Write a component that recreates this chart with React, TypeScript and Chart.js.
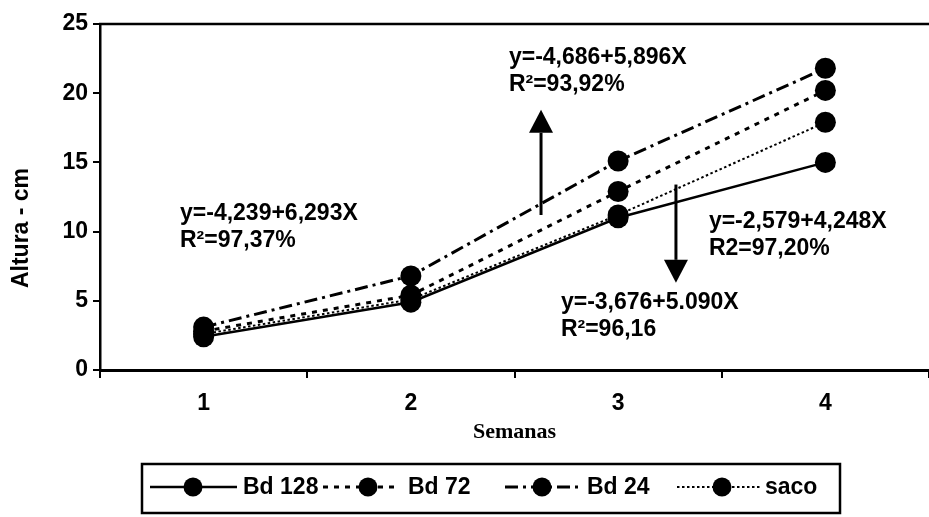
import React, { useEffect, useRef } from "react";
import { Chart, registerables } from "chart.js";

Chart.register(...registerables);

// ---- data ----
const weeks = ["1", "2", "3", "4"];
const seriesNames = ["Bd 128", "Bd 72", "Bd 24", "saco"];
const bd128 = [2.4, 4.9, 11.0, 15.0];
const bd72 = [2.8, 5.4, 12.9, 20.2];
const bd24 = [3.1, 6.8, 15.1, 21.8];
const saco = [2.6, 5.1, 11.2, 17.9];
const yMin = 0;
const yMax = 25;
const yStep = 5;
const yTitle = "Altura - cm";
const xTitle = "Semanas";
const eqBd24 = ["y=-4,239+6,293X", "R²=97,37%"];
const eqBd72 = ["y=-4,686+5,896X", "R²=93,92%"];
const eqBd128 = ["y=-2,579+4,248X", "R2=97,20%"];
const eqSaco = ["y=-3,676+5.090X", "R²=96,16"];

// ---- styles / layout ----
const FONT = '"Liberation Sans", Arial, sans-serif';
const SERIF = '"Liberation Serif", "Times New Roman", serif';
const styles = [
  { dash: [] as number[], width: 2.5 },
  { dash: [5, 6], width: 3 },
  { dash: [13, 5, 3, 5], width: 3 },
  { dash: [2.5, 2.5], width: 2 },
];
// annotation anchors in data coordinates (category index, value)
const notes = [
  { lines: eqBd24, at: [-0.114, 11.3] },
  { lines: eqBd72, at: [1.473, 22.6] },
  { lines: eqBd128, at: [2.438, 10.7] },
  { lines: eqSaco, at: [1.724, 4.9] },
];
const arrows = [
  { at: 1.628, from: 11.2, to: 18.8 },
  { at: 2.279, from: 13.4, to: 6.3 },
];
const legendItems = [
  { x0: 150, x1: 237, mx: 193, tx: 243 },
  { x0: 323, x1: 397, mx: 368, tx: 408 },
  { x0: 505, x1: 583, mx: 542, tx: 587 },
  { x0: 677, x1: 762, mx: 722, tx: 765 },
];

const series = [bd128, bd72, bd24, saco];

const decorPlugin = {
  id: "decor",
  afterDraw(chart: any) {
    const ctx = chart.ctx as CanvasRenderingContext2D;
    const area = chart.chartArea;
    const xs = chart.scales.x;
    const ys = chart.scales.y;
    ctx.save();
    ctx.fillStyle = "#000";
    ctx.strokeStyle = "#000";

    // top frame
    ctx.lineWidth = 2.5;
    ctx.setLineDash([]);
    ctx.beginPath();
    ctx.moveTo(area.left - 1, area.top);
    ctx.lineTo(area.right, area.top);
    ctx.stroke();

    // y title
    ctx.save();
    ctx.translate(22, (area.top + area.bottom) / 2 + 31);
    ctx.rotate(-Math.PI / 2);
    ctx.font = `bold 23px ${FONT}`;
    ctx.textAlign = "center";
    ctx.textBaseline = "middle";
    ctx.fillText(yTitle, 0, 0);
    ctx.restore();

    // x title
    ctx.font = `bold 22px ${SERIF}`;
    ctx.textAlign = "center";
    ctx.textBaseline = "middle";
    ctx.fillText(xTitle, (area.left + area.right) / 2, area.bottom + 62);

    // annotations
    ctx.font = `bold 23px ${FONT}`;
    ctx.textAlign = "left";
    notes.forEach((n) => {
      const x = xs.getPixelForValue(n.at[0]);
      const y = ys.getPixelForValue(n.at[1]);
      n.lines.forEach((t, k) => ctx.fillText(t, x, y + k * 27));
    });

    // arrows
    arrows.forEach((a) => {
      const x = xs.getPixelForValue(a.at);
      const y0 = ys.getPixelForValue(a.from);
      const y1 = ys.getPixelForValue(a.to);
      const dir = y1 < y0 ? -1 : 1;
      const head = 23;
      ctx.lineWidth = 3;
      ctx.beginPath();
      ctx.moveTo(x, y0);
      ctx.lineTo(x, y1 - dir * head);
      ctx.stroke();
      ctx.beginPath();
      ctx.moveTo(x, y1);
      ctx.lineTo(x - 12, y1 - dir * head);
      ctx.lineTo(x + 12, y1 - dir * head);
      ctx.closePath();
      ctx.fill();
    });

    // legend
    ctx.lineWidth = 2.5;
    ctx.setLineDash([]);
    ctx.strokeRect(142, 464, 698, 49);
    const cy = 487;
    ctx.font = `bold 23px ${FONT}`;
    ctx.textBaseline = "middle";
    legendItems.forEach((it, i) => {
      ctx.lineWidth = styles[i].width;
      ctx.setLineDash(styles[i].dash);
      ctx.beginPath();
      ctx.moveTo(it.x0, cy);
      ctx.lineTo(it.x1, cy);
      ctx.stroke();
      ctx.setLineDash([]);
      ctx.beginPath();
      ctx.arc(it.mx, cy, 9.5, 0, Math.PI * 2);
      ctx.fill();
      ctx.fillText(seriesNames[i], it.tx, cy + 1);
    });
    ctx.restore();
  },
};

export default function App() {
  const ref = useRef<HTMLCanvasElement | null>(null);
  useEffect(() => {
    if (!ref.current) return;
    const chart = new Chart(ref.current, {
      type: "line",
      data: {
        labels: weeks,
        datasets: series.map((d, i) => ({
          label: seriesNames[i],
          data: d,
          borderColor: "#000",
          backgroundColor: "#000",
          borderWidth: styles[i].width,
          borderDash: styles[i].dash,
          pointRadius: 10.5,
          pointHoverRadius: 10.5,
          pointBackgroundColor: "#000",
          pointBorderWidth: 0,
          tension: 0,
          fill: false,
        })),
      },
      options: {
        animation: false,
        responsive: true,
        maintainAspectRatio: false,
        events: [],
        layout: { autoPadding: false, padding: { top: 24, left: 0, right: 0, bottom: 0 } },
        plugins: { legend: { display: false }, tooltip: { enabled: false } },
        scales: {
          x: {
            offset: true,
            grid: {
              offset: true,
              drawOnChartArea: false,
              drawTicks: true,
              tickLength: 8,
              color: "#000",
              lineWidth: 2,
            },
            border: { display: true, color: "#000", width: 3 },
            ticks: {
              color: "#000",
              font: { family: FONT, weight: "bold", size: 23 },
              padding: 12,
              maxRotation: 0,
            },
            afterFit: (s: any) => {
              s.height = 147;
              s.paddingRight = 0;
              s.paddingLeft = 0;
            },
          },
          y: {
            min: yMin,
            max: yMax,
            grid: {
              drawOnChartArea: false,
              drawTicks: true,
              tickLength: 7,
              color: "#000",
              lineWidth: 2,
            },
            border: { display: true, color: "#000", width: 2.5 },
            ticks: {
              stepSize: yStep,
              color: "#000",
              font: { family: FONT, weight: "bold", size: 23 },
              padding: 5,
            },
            afterFit: (s: any) => {
              s.width = 100;
              s.paddingTop = 0;
              s.paddingBottom = 0;
            },
          },
        },
      },
      plugins: [decorPlugin],
    });
    return () => chart.destroy();
  }, []);
  return (
    <div style={{ position: "fixed", left: 0, top: 0, width: 929, height: 517, background: "#fff" }}>
      <canvas ref={ref} />
    </div>
  );
}
